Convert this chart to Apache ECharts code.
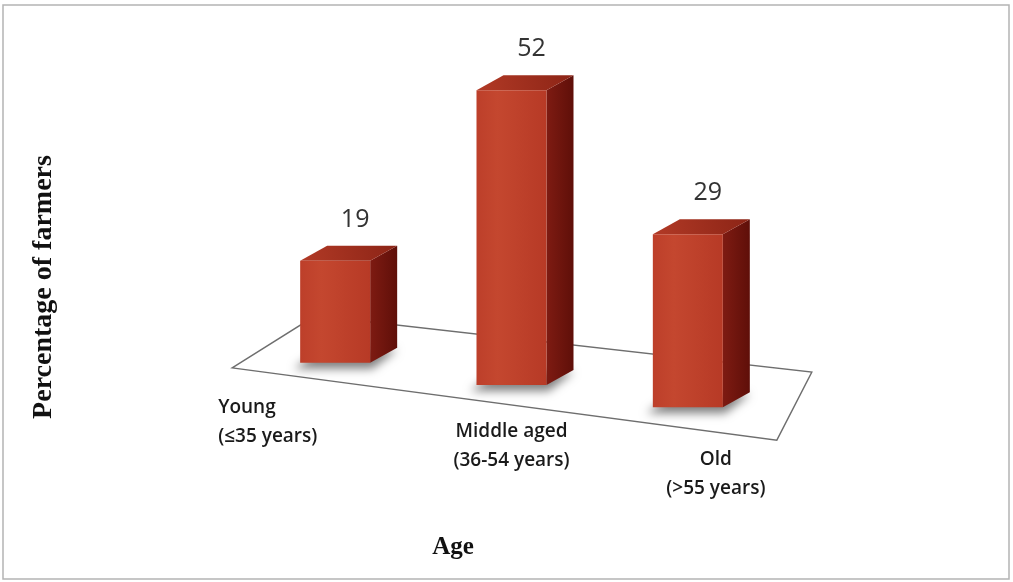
<!DOCTYPE html>
<html>
<head>
<meta charset="utf-8">
<script src="https://cdn.jsdelivr.net/npm/echarts@6/dist/echarts.min.js"></script>
<style>
  html, body { margin: 0; padding: 0; background: #fff; }
  #chart { width: 1013px; height: 582px; }
</style>
</head>
<body>
<div id="chart"></div>
<script>
// Age groups of the surveyed farmers and their share (%)
const categories = ['Young\n(≤35 years)', 'Middle aged\n(36-54 years)', 'Old\n(>55 years)'];
const percentages = [19, 52, 29];
const xAxisTitle = 'Age';
const yAxisTitle = 'Percentage of farmers';

// ---- box look ----
const BAR_W = 70;            // width of the front face (px)
const DEPTH = [27, -15];     // receding edge of every box (px)
const TILT = 0.1257;         // the boxes stand on a floor that drops to the right
const PERSP = 0.0003;        // boxes nearer the viewer (right) look a bit taller
const LABEL_STYLE = [        // category label placement relative to each box centre
  { dx: -117, dy: 45, align: 'left' },
  { dx: 0,    dy: 47, align: 'center' },
  { dx: 28,   dy: 53, align: 'center' }
];

const chart = echarts.init(document.getElementById('chart'));

// floor line position under a given x
function floorY(api, x) {
  const mid = api.coord([1, 0]);
  return mid[1] + TILT * (x - mid[0]);
}

function renderFloor(params, api) {
  const c0 = api.coord([0, 0])[0];
  const c2 = api.coord([2, 0])[0];
  const b0 = floorY(api, c0);
  const b2 = floorY(api, c2);
  return {
    type: 'polygon',
    shape: { points: [
      [c0 - 103, b0 + 5],
      [c0 - 20, b0 - 47],
      [c2 + 124, b2 - 35],
      [c2 + 89, b2 + 33]
    ] },
    style: { fill: '#fff', stroke: '#6e6e6e', lineWidth: 1.4 },
    z2: 0
  };
}

function renderBox(params, api) {
  const i = params.dataIndex;
  const v = api.value(1);
  const p0 = api.coord([api.value(0), 0]);
  const p1 = api.coord([api.value(0), v]);
  const mid = api.coord([1, 0]);
  const cx = p0[0];
  const s = 1 + PERSP * (cx - mid[0]);
  const h = (p0[1] - p1[1]) * s;
  const yb = floorY(api, cx);
  const L = cx - BAR_W / 2, R = cx + BAR_W / 2, T = yb - h;
  const dx = DEPTH[0], dy = DEPTH[1];
  const ls = LABEL_STYLE[i];
  const OFF = 3000;

  return {
    type: 'group',
    children: [
      // soft shadow cast on the floor (shape kept off-canvas, only its blur shows)
      {
        type: 'polygon',
        shape: { points: [
          [L - 6 - OFF, yb + 6], [R + 2 - OFF, yb + 6],
          [R + dx - OFF, yb + dy + 2], [L + dx - 7 - OFF, yb + dy + 2]
        ] },
        style: { fill: '#000', shadowColor: 'rgba(0,0,0,0.5)', shadowBlur: 10, shadowOffsetX: OFF, shadowOffsetY: 0 },
        z2: 1
      },
      // side face
      {
        type: 'polygon',
        shape: { points: [[R, T], [R + dx, T + dy], [R + dx, yb + dy], [R, yb]] },
        style: { fill: new echarts.graphic.LinearGradient(0, 0, 1, 0, [
          { offset: 0, color: '#7e1b12' }, { offset: 1, color: '#5f0f09' }
        ]) },
        z2: 2
      },
      // top face
      {
        type: 'polygon',
        shape: { points: [[L, T], [R, T], [R + dx, T + dy], [L + dx, T + dy]] },
        style: { fill: new echarts.graphic.LinearGradient(0, 1, 1, 0, [
          { offset: 0, color: '#b23a26' }, { offset: 1, color: '#8c2416' }
        ]) },
        z2: 3
      },
      // front face
      {
        type: 'rect',
        shape: { x: L, y: T, width: BAR_W, height: yb - T },
        style: { fill: new echarts.graphic.LinearGradient(0, 0, 1, 0, [
          { offset: 0, color: '#bd3f2a' }, { offset: 0.3, color: '#c4472f' }, { offset: 1, color: '#b73a26' }
        ]) },
        z2: 4
      },
      // value above the box
      {
        type: 'text',
        x: cx + 20, y: T - 41,
        style: { text: String(v), align: 'center', verticalAlign: 'middle',
                 font: '25px "Open Sans"', fill: '#333' },
        z2: 5
      },
      // category name on the floor
      {
        type: 'text',
        x: cx + ls.dx,
        y: yb + ls.dy - 15,
        style: { text: categories[i], align: ls.align, verticalAlign: 'top',
                 font: '600 19px "Open Sans"', lineHeight: 29, fill: '#1a1a1a' },
        z2: 5
      }
    ]
  };
}

chart.setOption({
  animation: false,
  backgroundColor: '#fff',
  grid: { left: 247, top: 45, width: 529, height: 340 },
  xAxis: { type: 'category', data: categories, show: false },
  yAxis: { type: 'value', min: 0, max: 60, show: false },
  graphic: [
    { type: 'rect', shape: { x: 3, y: 5, width: 1006, height: 574 },
      style: { fill: 'none', stroke: '#b4b4b4', lineWidth: 1.5 }, silent: true },
    { type: 'text', x: 44, y: 287, rotation: Math.PI / 2,
      style: { text: yAxisTitle, align: 'center', verticalAlign: 'middle',
               font: 'bold 28px "Liberation Serif"', fill: '#111' } },
    { type: 'text', x: 453, y: 548,
      style: { text: xAxisTitle, align: 'center', verticalAlign: 'middle',
               font: 'bold 25px "Liberation Serif"', fill: '#111' } }
  ],
  series: [
    { type: 'custom', renderItem: renderFloor, data: [[0]], z: 1, silent: true },
    { type: 'custom', renderItem: renderBox, data: percentages.map((v, i) => [i, v]),
      encode: { x: 0, y: 1 }, z: 2, silent: true }
  ]
});
</script>
</body>
</html>
